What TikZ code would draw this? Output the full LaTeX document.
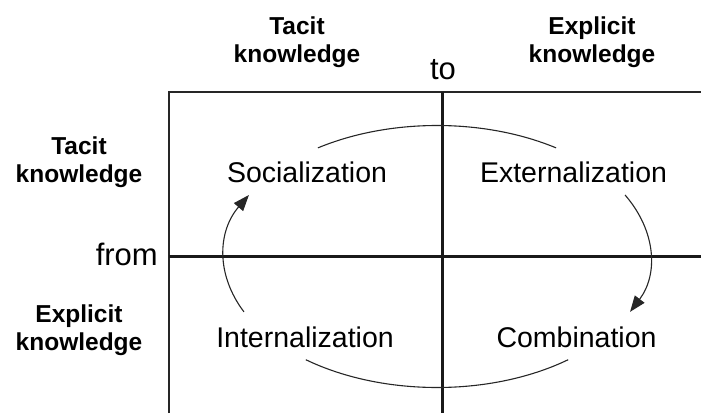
\documentclass[tikz,border=0pt]{standalone}
\usepackage{fontspec}
\setmainfont{Liberation Sans}
\usetikzlibrary{arrows.meta}
\begin{document}
\begin{tikzpicture}[x=1pt,y=1pt,
  hdr/.style={font=\bfseries\fontsize{24.5}{28}\selectfont, align=center, inner sep=0pt},
  quad/.style={font=\fontsize{28.5}{32}\selectfont, inner sep=0pt, anchor=base},
  axislbl/.style={font=\fontsize{31}{34}\selectfont, inner sep=0pt},
  thinline/.style={line width=1.6pt, draw=black!85},
  thickline/.style={line width=3pt, draw=black!90},
  cyc/.style={line width=1.1pt, draw=black!85},
  tipend/.style={-{Triangle[length=16pt,width=12pt]}}
]
\useasboundingbox (0,0) rectangle (701,413);
% grid corners
\coordinate (tl) at (169,321);
\coordinate (bl) at (169,0);
\coordinate (tr) at (701,321);
\coordinate (mt) at (442,321);
\coordinate (mb) at (442,0);
\coordinate (ml) at (169,157);
\coordinate (mr) at (701,157);
\draw[thinline] (bl) -- (tl) -- (tr);
\draw[thickline] (mt) -- (mb);
\draw[thickline] (ml) -- (mr);
% headers
\node[hdr] (hTacit) at (297,370.3) {Tacit\\knowledge};
\node[hdr] (hExpl) at (592,370.3) {Explicit\\knowledge};
\node[hdr] (lTacit) at (79,250.3) {Tacit\\knowledge};
\node[hdr] (lExpl) at (79,82.4) {Explicit\\knowledge};
\node[axislbl, anchor=base] (to) at (443,333) {to};
\node[axislbl, anchor=base east] (from) at (158,148) {from};
% quadrant labels
\node[quad] (soc) at (307,230) {Socialization};
\node[quad] (ext) at (573.5,231) {Externalization};
\node[quad] (int) at (305,66) {Internalization};
\node[quad] (com) at (576.5,66) {Combination};
% cycle arcs on an ellipse
\coordinate (C) at (437,156.5);
\coordinate (a1) at ([shift={(124:213pt and 131pt)}]C);
\coordinate (a2) at ([shift={(28:213pt and 131pt)}]C);
\coordinate (a3) at ([shift={(-52:213pt and 131pt)}]C);
\coordinate (a4) at ([shift={(205:213pt and 131pt)}]C);
\draw[cyc] (a1) arc[start angle=124,end angle=56,x radius=213pt,y radius=131pt];
\draw[cyc,tipend] (a2) arc[start angle=28,end angle=-25,x radius=213pt,y radius=131pt];
\draw[cyc] (a3) arc[start angle=-52,end angle=-128,x radius=213pt,y radius=131pt];
\draw[cyc,tipend] (a4) arc[start angle=205,end angle=152,x radius=213pt,y radius=131pt];
\end{tikzpicture}
\end{document}
